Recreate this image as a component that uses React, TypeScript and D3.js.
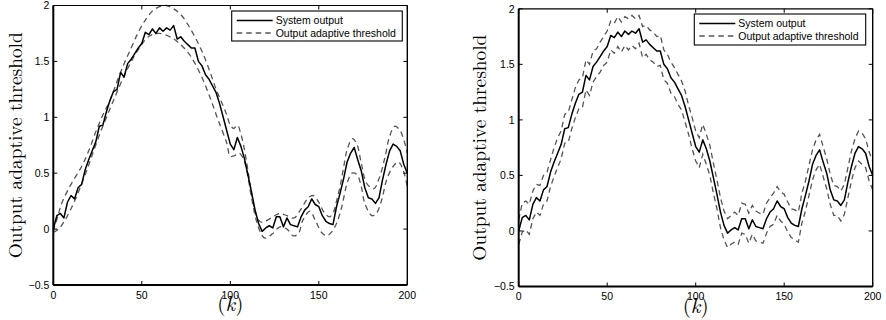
import React from "react";
import * as d3 from "d3";

// ---- data ----
const kGrid: number[] = d3.range(0, 201, 2);

const systemOutput: number[] = [
  0.0, 0.12, 0.14, 0.10, 0.24, 0.30, 0.27, 0.37, 0.40, 0.53,
  0.62, 0.70, 0.78, 0.92, 0.93, 1.05, 1.15, 1.23, 1.25, 1.40,
  1.36, 1.48, 1.52, 1.57, 1.62, 1.66, 1.76, 1.74, 1.79, 1.75,
  1.80, 1.77, 1.80, 1.78, 1.82, 1.70, 1.72, 1.68, 1.65, 1.62,
  1.62, 1.50, 1.46, 1.38, 1.34, 1.28, 1.22, 1.12, 1.00, 0.88,
  0.76, 0.71, 0.82, 0.74, 0.63, 0.48, 0.33, 0.17, 0.05, -0.02,
  0.01, 0.03, 0.01, 0.11, 0.11, 0.02, 0.10, 0.04, 0.03, 0.02,
  0.11, 0.17, 0.20, 0.27, 0.22, 0.20, 0.12, 0.07, 0.05, 0.04,
  0.20, 0.32, 0.45, 0.60, 0.68, 0.73, 0.62, 0.52, 0.37, 0.28,
  0.27, 0.23, 0.28, 0.44, 0.58, 0.70, 0.76, 0.74, 0.70, 0.58,
  0.50,
];

const rightUpper: number[] = [
  0.10, 0.25, 0.27, 0.24, 0.36, 0.42, 0.41, 0.50, 0.53, 0.64,
  0.75, 0.84, 0.90, 1.05, 1.07, 1.18, 1.29, 1.36, 1.38, 1.54,
  1.50, 1.62, 1.64, 1.70, 1.75, 1.80, 1.89, 1.87, 1.93, 1.88,
  1.93, 1.91, 1.94, 1.91, 1.94, 1.84, 1.85, 1.81, 1.79, 1.75,
  1.76, 1.63, 1.59, 1.52, 1.47, 1.41, 1.35, 1.26, 1.13, 1.02,
  0.90, 0.84, 0.96, 0.87, 0.77, 0.61, 0.46, 0.30, 0.18, 0.11,
  0.14, 0.17, 0.14, 0.25, 0.24, 0.16, 0.23, 0.18, 0.16, 0.15,
  0.25, 0.30, 0.34, 0.40, 0.35, 0.33, 0.26, 0.20, 0.19, 0.17,
  0.34, 0.45, 0.59, 0.73, 0.82, 0.87, 0.76, 0.65, 0.51, 0.41,
  0.40, 0.36, 0.42, 0.57, 0.72, 0.83, 0.90, 0.88, 0.83, 0.71,
  0.63,
];

const rightLower: number[] = [
  -0.12, -0.01, 0.01, -0.03, 0.11, 0.17, 0.14, 0.24, 0.27, 0.40,
  0.49, 0.57, 0.65, 0.79, 0.80, 0.92, 1.02, 1.10, 1.11, 1.27,
  1.22, 1.34, 1.39, 1.43, 1.49, 1.52, 1.63, 1.60, 1.66, 1.61,
  1.67, 1.63, 1.67, 1.64, 1.69, 1.56, 1.59, 1.54, 1.52, 1.48,
  1.49, 1.36, 1.33, 1.24, 1.21, 1.14, 1.09, 0.98, 0.87, 0.74,
  0.63, 0.57, 0.69, 0.60, 0.50, 0.34, 0.20, 0.03, -0.08, -0.15,
  -0.12, -0.10, -0.12, -0.02, -0.03, -0.11, -0.03, -0.09, -0.10, -0.11,
  -0.02, 0.04, 0.06, 0.14, 0.09, 0.06, -0.01, -0.06, -0.08, -0.10,
  0.07, 0.18, 0.32, 0.46, 0.55, 0.60, 0.49, 0.38, 0.24, 0.14,
  0.14, 0.09, 0.15, 0.30, 0.45, 0.57, 0.63, 0.60, 0.57, 0.45,
  0.37,
];

const leftUpperK: number[] = [
  0, 3, 5, 10, 16, 20, 24, 28, 32, 36, 40, 44, 48, 52, 56, 60, 64, 68, 72, 76,
  80, 84, 88, 92, 96, 98, 100, 102, 104, 106, 108, 110, 112, 114, 116, 118, 121,
  125, 128, 132, 136, 140, 144, 147, 150, 153, 156, 158, 160, 162, 164, 166,
  169, 171.5, 174, 177, 181, 184, 187.5, 190, 193, 196, 198, 200,
];
const leftUpperV: number[] = [
  -0.02, 0.14, 0.24, 0.40, 0.56, 0.70, 0.87, 1.02, 1.15, 1.32, 1.48, 1.62, 1.76,
  1.87, 1.95, 1.99, 2.0, 1.97, 1.92, 1.83, 1.72, 1.59, 1.43, 1.25, 1.10, 1.02,
  0.93, 0.90, 0.93, 0.85, 0.71, 0.52, 0.32, 0.16, 0.08, 0.06, 0.08, 0.12, 0.14,
  0.12, 0.10, 0.18, 0.28, 0.30, 0.24, 0.15, 0.11, 0.14, 0.25, 0.38, 0.55, 0.71,
  0.81, 0.76, 0.59, 0.41, 0.36, 0.45, 0.65, 0.83, 0.92, 0.88, 0.80, 0.68,
];

const leftLowerK: number[] = [
  0, 3, 6.6, 12, 19, 26, 34, 41.5, 49, 54.6, 60, 66, 70.6, 77, 83, 88.5, 93, 98,
  100, 102.7, 105, 107, 109, 112, 115, 117.7, 119.5, 124, 128, 132, 135.6, 138.5,
  141, 145, 148, 151.6, 154.5, 157, 160, 163, 166, 168.7, 171.5, 174, 176, 180,
  182.5, 185.5, 188.3, 192, 195, 197.6, 200,
];
const leftLowerV: number[] = [
  -0.03, 0.0, 0.08, 0.25, 0.53, 0.84, 1.15, 1.42, 1.63, 1.73, 1.75, 1.72, 1.67,
  1.56, 1.39, 1.18, 0.98, 0.77, 0.65, 0.66, 0.68, 0.64, 0.55, 0.28, 0.06, -0.05,
  -0.08, -0.04, 0.02, 0.0, -0.06, -0.04, 0.08, 0.16, 0.08, -0.03, -0.06, -0.03,
  0.05, 0.2, 0.41, 0.5, 0.49, 0.38, 0.23, 0.12, 0.14, 0.26, 0.44, 0.56, 0.60,
  0.53, 0.38,
];

const xTicks: number[] = [0, 50, 100, 150, 200];
const yTicks: number[] = [-0.5, 0, 0.5, 1, 1.5, 2];
const yTickLabels: string[] = ["\u22120.5", "0", "0.5", "1", "1.5", "2"];
const legendLabels: string[] = ["System output", "Output adaptive threshold"];
const yAxisLabel = "Output adaptive threshold";

type Pt = [number, number];
const zip = (ks: number[], vs: number[]): Pt[] => ks.map((k, i) => [k, vs[i]]);

const SANS = "'Liberation Sans', Arial, Helvetica, sans-serif";
const SERIF = "'Latin Modern Roman', 'DejaVu Serif', 'Liberation Serif', serif";

interface PanelProps {
  x0: number;
  x1: number;
  yTop: number;
  yBottom: number;
  upper: Pt[];
  lower: Pt[];
  smooth: boolean;
  legend: { x: number; y: number; w: number; h: number };
  labelX: number;
}

function Panel(p: PanelProps) {
  const x = d3.scaleLinear().domain([0, 200]).range([p.x0, p.x1]);
  const y = d3.scaleLinear().domain([-0.5, 2]).range([p.yBottom, p.yTop]);
  const solid = d3
    .line<Pt>()
    .x((d) => x(d[0]))
    .y((d) => y(d[1]))(zip(kGrid, systemOutput)) as string;
  const dashLine = d3
    .line<Pt>()
    .x((d) => x(d[0]))
    .y((d) => y(d[1]))
    .curve(p.smooth ? d3.curveCatmullRom : d3.curveLinear);
  const tl = 4;
  const lg = p.legend;
  const midY = (p.yTop + p.yBottom) / 2;
  return (
    <g>
      <path d={dashLine(p.upper) as string} fill="none" stroke="#555" strokeWidth={1.3} strokeDasharray="5.5,4" />
      <path d={dashLine(p.lower) as string} fill="none" stroke="#555" strokeWidth={1.3} strokeDasharray="5.5,4" />
      <path d={solid} fill="none" stroke="#000" strokeWidth={1.5} strokeLinejoin="round" />
      {/* box */}
      <line x1={p.x0} x2={p.x1} y1={p.yTop} y2={p.yTop} stroke="#000" strokeWidth={1.2} />
      <line x1={p.x1} x2={p.x1} y1={p.yTop} y2={p.yBottom} stroke="#000" strokeWidth={1.4} />
      <line x1={p.x0} x2={p.x1} y1={p.yBottom} y2={p.yBottom} stroke="#000" strokeWidth={2} />
      <line x1={p.x0} x2={p.x0} y1={p.yTop} y2={p.yBottom} stroke="#000" strokeWidth={2} />
      {xTicks.map((t) => (
        <g key={"x" + t}>
          <line x1={x(t)} x2={x(t)} y1={p.yBottom} y2={p.yBottom - tl} stroke="#000" strokeWidth={1} />
          <line x1={x(t)} x2={x(t)} y1={p.yTop} y2={p.yTop + tl} stroke="#000" strokeWidth={1} />
          <text x={x(t)} y={p.yBottom + 13.5} textAnchor="middle" fontFamily={SANS} fontSize={10.5} fill="#000">
            {t}
          </text>
        </g>
      ))}
      {yTicks.map((t, i) => (
        <g key={"y" + t}>
          <line x1={p.x0} x2={p.x0 + tl} y1={y(t)} y2={y(t)} stroke="#000" strokeWidth={1} />
          <line x1={p.x1} x2={p.x1 - tl} y1={y(t)} y2={y(t)} stroke="#000" strokeWidth={1} />
          <text x={p.x0 - 4} y={y(t) + 3.8} textAnchor="end" fontFamily={SANS} fontSize={10.5} fill="#000">
            {yTickLabels[i]}
          </text>
        </g>
      ))}
      {/* y label */}
      <text
        transform={`translate(${p.labelX},${midY}) rotate(-90)`}
        textAnchor="middle"
        fontFamily={SERIF}
        fontSize={19}
        textLength={226}
        lengthAdjust="spacingAndGlyphs"
        fill="#000"
      >
        {yAxisLabel}
      </text>
      {/* x label */}
      <text x={x(100)} y={p.yBottom + 26} textAnchor="middle" fontFamily={SERIF} fontSize={21} fill="#000">
        (<tspan fontStyle="italic">k</tspan>)
      </text>
      {/* legend */}
      <rect x={lg.x} y={lg.y} width={lg.w} height={lg.h} fill="#fff" stroke="#000" strokeWidth={1.1} />
      <line x1={lg.x + 5} x2={lg.x + 41} y1={lg.y + 9.5} y2={lg.y + 9.5} stroke="#000" strokeWidth={1.5} />
      <line x1={lg.x + 5} x2={lg.x + 41} y1={lg.y + 22} y2={lg.y + 22} stroke="#555" strokeWidth={1.3} strokeDasharray="5.5,4" />
      <text x={lg.x + 44} y={lg.y + 13} fontFamily={SANS} fontSize={10.5} fill="#000">
        {legendLabels[0]}
      </text>
      <text x={lg.x + 44} y={lg.y + 25.5} fontFamily={SANS} fontSize={10.5} fill="#000">
        {legendLabels[1]}
      </text>
    </g>
  );
}

export default function App() {
  return (
    <svg
      width={886}
      height={320}
      style={{ position: "absolute", left: 0, top: 0, background: "#fff" }}
    >
      <rect width={886} height={320} fill="#fff" />
      <Panel
        x0={53.3}
        x1={407.3}
        yTop={5.5}
        yBottom={285}
        upper={zip(leftUpperK, leftUpperV)}
        lower={zip(leftLowerK, leftLowerV)}
        smooth={true}
        legend={{ x: 231.7, y: 11, w: 170.6, h: 30 }}
        labelX={22}
      />
      <Panel
        x0={518.7}
        x1={872.7}
        yTop={8.8}
        yBottom={286.5}
        upper={zip(kGrid, rightUpper)}
        lower={zip(kGrid, rightLower)}
        smooth={false}
        legend={{ x: 694.3, y: 14, w: 171.4, h: 31 }}
        labelX={486}
      />
    </svg>
  );
}
